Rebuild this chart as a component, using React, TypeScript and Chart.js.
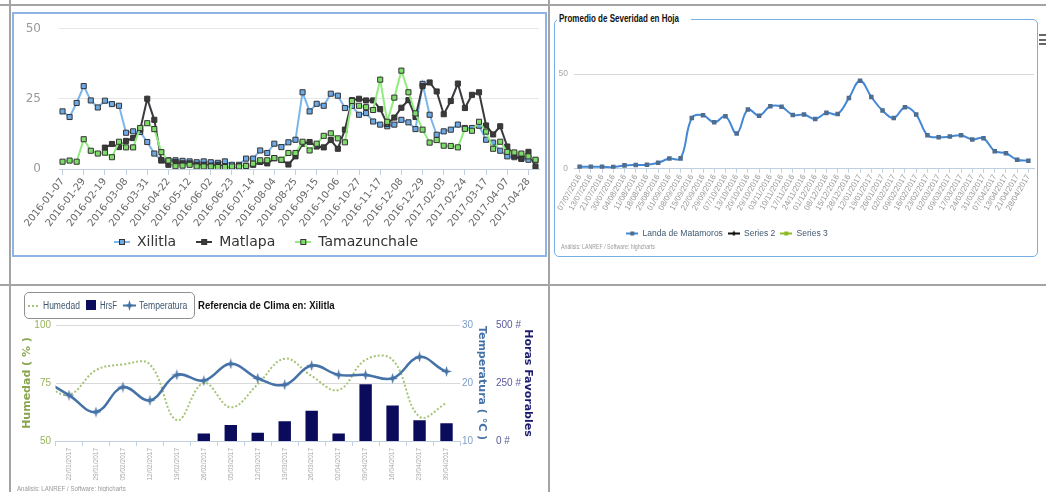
import React, { useEffect, useRef } from "react";
import { Chart, registerables } from "chart.js";

Chart.register(...registerables);

const ARIAL = '"Liberation Sans", Arial, sans-serif';
const SANS = '"DejaVu Sans", Verdana, sans-serif';

// ---------- Chart 1: severity by site ----------
const sevDates = [
  "2016-01-07", "2016-01-14", "2016-01-21", "2016-01-29", "2016-02-05", "2016-02-12", "2016-02-19", "2016-02-25",
  "2016-03-02", "2016-03-08", "2016-03-15", "2016-03-23", "2016-03-31", "2016-04-07", "2016-04-14", "2016-04-22",
  "2016-04-28", "2016-05-05", "2016-05-12", "2016-05-19", "2016-05-26", "2016-06-02", "2016-06-09", "2016-06-16",
  "2016-06-23", "2016-06-30", "2016-07-07", "2016-07-14", "2016-07-21", "2016-07-28", "2016-08-04", "2016-08-11",
  "2016-08-18", "2016-08-25", "2016-09-01", "2016-09-08", "2016-09-15", "2016-09-22", "2016-09-29", "2016-10-06",
  "2016-10-13", "2016-10-20", "2016-10-27", "2016-11-03", "2016-11-10", "2016-11-17", "2016-11-24", "2016-12-01",
  "2016-12-08", "2016-12-15", "2016-12-22", "2016-12-29", "2017-01-12", "2017-01-26", "2017-02-03", "2017-02-10",
  "2017-02-17", "2017-02-24", "2017-03-03", "2017-03-10", "2017-03-17", "2017-03-24", "2017-03-31", "2017-04-07",
  "2017-04-14", "2017-04-21", "2017-04-28", "2017-05-05",
];
const xilitla = [
  20.5, 18.5, 23.5, 29.5, 24.4, 21.9, 24.3, 23.1, 22.5, 12.9, 13.4, 13.2, 9.6, 5.5, 3.0, 3.1,
  3.1, 2.9, 2.7, 2.4, 2.7, 2.4, 2.2, 2.7, 1.5, 1.5, 3.7, 3.7, 6.6, 5.7, 9.0, 7.8,
  9.5, 10.4, 27.3, 20.5, 23.2, 22.5, 26.8, 26.1, 21.7, 22.5, 19.3, 19.9, 16.9, 15.8, 15.2, 15.8,
  17.5, 16.6, 14.2, 30.3, 19.3, 12.2, 13.4, 14.0, 15.8, 14.6, 14.6, 15.4, 10.4, 9.4, 6.5, 4.5,
  4.2, 3.8, 3.3, 3.0,
];
const matlapa = [
  null, null, null, null, null, null, 7.6, 8.9, 7.8, 10.0, 11.0, 14.0, 25.0, 17.5, 3.2, 1.5,
  2.5, 2.0, 2.0, 1.5, 1.5, 1.2, 1.5, 1.0, 0.4, 1.0, 1.2, 1.5, 2.5, 2.0, 3.8, 3.2,
  1.6, 4.5, 9.0, 9.6, 8.0, 7.7, 10.3, 7.2, 14.0, 24.5, 25.0, 24.4, 24.4, 21.3, 16.0, 18.3,
  21.8, 24.5, 18.5, 29.5, 30.8, 27.6, 19.5, 24.2, 30.4, 21.7, 26.4, 27.3, 15.5, 12.3, 15.2, 8.0,
  4.6, 3.6, 6.1, 0.8,
];
const tamazunchale = [
  2.6, 3.0, 2.6, 10.6, 6.5, 5.5, 5.8, 4.2, 9.7, 7.7, 7.7, 14.6, 16.3, 14.2, 6.0, 3.0,
  1.0, 1.2, 1.5, 0.9, 0.9, 0.9, 0.7, 0.7, 0.9, 0.9, 1.1, 1.9, 3.1, 3.1, 3.9, 3.3,
  5.7, 5.7, 9.7, 6.6, 9.0, 11.8, 12.7, 10.9, 9.5, 24.2, 22.5, 22.0, 21.0, 31.8, 16.8, 25.4,
  35.0, 27.3, 19.8, 14.0, 9.4, 10.3, 8.3, 8.2, 7.7, 14.3, 13.6, 16.8, 13.3, 7.2, 9.7, 6.1,
  5.9, 5.5, 4.5, 3.3,
];
const siteNames = ["Xilitla", "Matlapa", "Tamazunchale"];

// ---------- Chart 2: Landa de Matamoros ----------
const landaDates = [
  "07/07/2016", "13/07/2016", "21/07/2016", "30/07/2016", "04/08/2016", "11/08/2016", "18/08/2016", "25/08/2016",
  "01/09/2016", "08/09/2016", "15/09/2016", "22/09/2016", "29/09/2016", "07/10/2016", "13/10/2016", "20/10/2016",
  "29/10/2016", "03/11/2016", "10/11/2016", "17/11/2016", "24/11/2016", "01/12/2016", "08/12/2016", "15/12/2016",
  "28/12/2016", "12/01/2017", "19/01/2017", "26/01/2017", "02/02/2017", "09/02/2017", "16/02/2017", "23/02/2017",
  "02/03/2017", "09/03/2017", "17/03/2017", "24/03/2017", "31/03/2017", "07/04/2017", "13/04/2017", "21/04/2017",
  "28/04/2017",
];
const landaSeverity = [
  1.1, 1.1, 1.1, 0.9, 1.8, 2.0, 2.1, 3.2, 5.4, 5.5, 26.8, 28.2, 24.5, 27.7, 18.6, 31.3,
  28.0, 33.0, 32.7, 28.4, 28.6, 26.3, 29.5, 28.9, 37.3, 46.4, 37.9, 30.7, 26.8, 32.5, 28.6, 17.7,
  16.6, 17.0, 17.7, 15.5, 16.1, 9.3, 8.2, 4.8, 4.3,
];

// ---------- Chart 3: climate reference (first and last entries lie just outside the view) ----------
const climaDates = [
  "15/01/2017", "22/01/2017", "29/01/2017", "05/02/2017", "12/02/2017", "19/02/2017", "26/02/2017", "05/03/2017",
  "12/03/2017", "19/03/2017", "26/03/2017", "02/04/2017", "09/04/2017", "16/04/2017", "23/04/2017", "30/04/2017",
  "07/05/2017",
];
const humedad = [75, 70, 80.5, 83, 83, 59, 75, 64.5, 74.5, 85.5, 78, 72, 85, 85, 60.5, 66.5, 74];
const temperatura = [20.7, 17.9, 15.0, 19.3, 17.0, 21.4, 20.4, 23.3, 20.8, 19.7, 23.0, 21.4, 21.4, 20.8, 24.5, 22.0, 22.0];
const horasFavorables = [null, null, null, null, null, null, 32, 69, 36, 85, 130, 32, 245, 153, 89, 76, null];

function makeIcon(o: {
  w: number; h: number; line: string; lineWidth?: number; dash?: number[];
  marker?: "rect" | "diamond" | "star"; fill?: string; stroke?: string; size?: number;
}) {
  const c = document.createElement("canvas");
  c.width = o.w;
  c.height = o.h;
  const ctx = c.getContext("2d")!;
  const cy = o.h / 2;
  const cx = o.w / 2;
  if (o.line !== "none") {
    ctx.strokeStyle = o.line;
    ctx.lineWidth = o.lineWidth ?? 2;
    if (o.dash) ctx.setLineDash(o.dash);
    ctx.beginPath();
    ctx.moveTo(0, cy);
    ctx.lineTo(o.w, cy);
    ctx.stroke();
    ctx.setLineDash([]);
  }
  const s = o.size ?? 6;
  if (o.marker === "rect") {
    ctx.fillStyle = o.fill || "#000";
    ctx.fillRect(cx - s / 2, cy - s / 2, s, s);
    if (o.stroke) {
      ctx.strokeStyle = o.stroke;
      ctx.lineWidth = 1;
      ctx.strokeRect(cx - s / 2 + 0.5, cy - s / 2 + 0.5, s - 1, s - 1);
    }
  } else if (o.marker === "diamond") {
    ctx.fillStyle = o.fill || "#000";
    ctx.beginPath();
    ctx.moveTo(cx, cy - s / 2);
    ctx.lineTo(cx + s / 2, cy);
    ctx.lineTo(cx, cy + s / 2);
    ctx.lineTo(cx - s / 2, cy);
    ctx.closePath();
    ctx.fill();
  } else if (o.marker === "star") {
    ctx.fillStyle = o.fill || "#000";
    const r = s / 2;
    const k = 1.3;
    ctx.beginPath();
    ctx.moveTo(cx, cy - r);
    ctx.lineTo(cx + k, cy - k);
    ctx.lineTo(cx + r, cy);
    ctx.lineTo(cx + k, cy + k);
    ctx.lineTo(cx, cy + r);
    ctx.lineTo(cx - k, cy + k);
    ctx.lineTo(cx - r, cy);
    ctx.lineTo(cx - k, cy - k);
    ctx.closePath();
    ctx.fill();
  }
  return c;
}

// Small layout tweaks applied after Chart.js has laid the chart out:
// dx shifts the legend row sideways, xExtra lets rotated x labels draw below the axis box.
const layoutTweak = {
  id: "layoutTweak",
  afterLayout(chart: any, _args: any, opts: any) {
    const dx = (opts && opts.dx) || 0;
    if (chart.legend && dx) {
      chart.legend.left += dx;
      chart.legend.right += dx;
    }
    const extra = (opts && opts.xExtra) || 0;
    if (extra && chart.scales.x) {
      chart.scales.x.bottom += extra;
    }
  },
};

const LINE_GRAY = "#a4a4a4";
const CLEAR = "rgba(0,0,0,0)";

export default function App() {
  const c1 = useRef<HTMLCanvasElement>(null);
  const c2 = useRef<HTMLCanvasElement>(null);
  const c3 = useRef<HTMLCanvasElement>(null);

  useEffect(() => {
    Chart.defaults.font.family = SANS;
    const charts: Chart[] = [];

    // ----- Chart 1 -----
    const siteLine = ["#7cb5ec", "#3a3a3e", "#90ed7d"];
    const siteFill = ["#6ea9e4", "#3a3a3a", "#7fdc6a"];
    const icons1 = siteLine.map((col, i) =>
      makeIcon({ w: 16, h: 8, line: col, marker: "rect", fill: siteFill[i], stroke: "#333", size: 6 })
    );
    const siteData = [xilitla, matlapa, tamazunchale];
    charts.push(
      new Chart(c1.current!, {
        type: "line",
        data: {
          labels: sevDates,
          datasets: siteData.map((d, i) => ({
            label: siteNames[i],
            data: d,
            borderColor: siteLine[i],
            backgroundColor: siteFill[i],
            borderWidth: 2,
            pointStyle: "rect",
            pointRadius: 3.6,
            pointBackgroundColor: siteFill[i],
            pointBorderColor: "#333",
            pointBorderWidth: 1,
            tension: 0,
            spanGaps: false,
            order: 3 - i,
          })),
        },
        options: {
          responsive: false,
          animation: false,
          layout: { padding: { top: 14.5, right: 1, bottom: 5, left: 0 } },
          plugins: {
            tooltip: { enabled: false },
            legend: {
              position: "bottom",
              labels: {
                usePointStyle: true,
                pointStyleWidth: 16,
                padding: 20,
                color: "#333",
                font: { size: 14, family: SANS },
                sort: (a: any, b: any) => a.datasetIndex - b.datasetIndex,
                generateLabels: (chart: any) =>
                  Chart.defaults.plugins.legend.labels
                    .generateLabels(chart)
                    .map((l: any) => ({ ...l, pointStyle: icons1[l.datasetIndex] })),
              },
            },
            layoutTweak: { dx: -13.5, xExtra: 30 },
          } as any,
          scales: {
            x: {
              offset: true,
              grid: {
                drawOnChartArea: false,
                tickLength: 6,
                offset: false,
                color: (ctx: any) => (ctx.index % 3 === 0 ? "#C0D0E0" : CLEAR),
              },
              border: { color: "#C0D0E0" },
              ticks: {
                autoSkip: false,
                maxRotation: 52,
                minRotation: 52,
                padding: 1,
                color: "#666",
                font: { size: 10, family: SANS },
                callback: (_v: any, i: number) => (i % 3 === 0 ? sevDates[i] : ""),
              },
              afterFit: (s: any) => {
                s.height = 46;
              },
            },
            y: {
              min: 0,
              max: 50,
              ticks: { stepSize: 25, padding: 4, color: "#999", font: { size: 12, family: SANS } },
              grid: {
                drawTicks: true,
                tickLength: 14,
                tickColor: CLEAR,
                color: (ctx: any) => (ctx.tick && ctx.tick.value === 0 ? CLEAR : "#e6e6e6"),
              },
              border: { display: false },
              afterFit: (s: any) => {
                s.width = 45;
              },
            },
          },
        },
        plugins: [layoutTweak as any],
      })
    );

    // ----- Chart 2 -----
    const icons2 = [
      makeIcon({ w: 12, h: 6, line: "#4388d6", marker: "rect", fill: "#4f6d8f", size: 4 }),
      makeIcon({ w: 12, h: 6, line: "#111", marker: "diamond", fill: "#111", size: 5 }),
      makeIcon({ w: 12, h: 6, line: "#8bbc21", marker: "rect", fill: "#8bbc21", size: 4 }),
    ];
    charts.push(
      new Chart(c2.current!, {
        type: "line",
        data: {
          labels: landaDates,
          datasets: [
            {
              label: "Landa de Matamoros",
              data: landaSeverity,
              borderColor: "#4388d6",
              backgroundColor: "#4388d6",
              borderWidth: 2,
              tension: 0.4,
              pointStyle: "rect",
              pointRadius: 3.2,
              pointBackgroundColor: "#4f6d8f",
              pointBorderWidth: 0,
            },
            { label: "Series 2", data: [], borderColor: "#111", backgroundColor: "#111" },
            { label: "Series 3", data: [], borderColor: "#8bbc21", backgroundColor: "#8bbc21" },
          ],
        },
        options: {
          responsive: false,
          animation: false,
          layout: { padding: { top: 54, right: 2, bottom: 4.3, left: 0 } },
          plugins: {
            tooltip: { enabled: false },
            legend: {
              position: "bottom",
              labels: {
                usePointStyle: true,
                pointStyleWidth: 12,
                padding: 5,
                color: "#3E576F",
                font: { size: 8.5, family: ARIAL },
                generateLabels: (chart: any) =>
                  Chart.defaults.plugins.legend.labels
                    .generateLabels(chart)
                    .map((l: any) => ({ ...l, pointStyle: icons2[l.datasetIndex] })),
              },
            },
            layoutTweak: { dx: -69, xExtra: 10 },
          } as any,
          scales: {
            x: {
              offset: true,
              grid: { drawOnChartArea: false, tickLength: 4, color: "#C0D0E0", offset: false },
              border: { color: "#C0D0E0" },
              ticks: {
                autoSkip: false,
                maxRotation: 60,
                minRotation: 60,
                padding: 0,
                color: "#999",
                font: { size: 8, family: ARIAL },
              },
              afterFit: (s: any) => {
                s.height = 55.4;
              },
            },
            y: {
              min: 0,
              max: 50,
              ticks: { stepSize: 50, padding: 6, color: "#aaa", font: { size: 8.5, family: ARIAL } },
              grid: {
                drawTicks: false,
                color: (ctx: any) => (ctx.tick && ctx.tick.value === 0 ? CLEAR : "#d6d6d6"),
              },
              border: { display: false },
              afterFit: (s: any) => {
                s.width = 18;
              },
            },
          },
        },
        plugins: [layoutTweak as any],
      })
    );

    // ----- Chart 3 -----
    const tempStar = makeIcon({ w: 11, h: 11, line: "none", marker: "star", fill: "#4572A7", size: 11 });
    charts.push(
      new Chart(c3.current!, {
        type: "bar",
        data: {
          labels: climaDates,
          datasets: [
            {
              type: "bar",
              label: "HrsF",
              data: horasFavorables as any,
              backgroundColor: "#0b0b5c",
              borderWidth: 0,
              yAxisID: "yR",
              categoryPercentage: 1,
              barPercentage: 0.46,
              order: 3,
            },
            {
              type: "line",
              label: "Humedad",
              data: humedad,
              borderColor: "#a6c476",
              borderWidth: 2,
              borderDash: [2, 2],
              tension: 0.4,
              pointRadius: 0,
              yAxisID: "yH",
              order: 2,
            },
            {
              type: "line",
              label: "Temperatura",
              data: temperatura,
              borderColor: "#4572A7",
              backgroundColor: "#4572A7",
              borderWidth: 2.5,
              tension: 0.4,
              pointStyle: tempStar as any,
              pointRadius: 5,
              yAxisID: "yT",
              order: 1,
            },
          ] as any,
        },
        options: {
          responsive: false,
          animation: false,
          layout: { padding: { top: 39, right: 0, bottom: 0, left: 0 } },
          plugins: { legend: { display: false }, tooltip: { enabled: false } },
          scales: {
            x: {
              min: 1,
              max: 15,
              offset: true,
              grid: { drawOnChartArea: false, offset: true, tickLength: 5, color: "#C0D0E0" },
              border: { color: "#C0D0E0" },
              ticks: {
                autoSkip: false,
                maxRotation: 90,
                minRotation: 90,
                padding: 2,
                color: "#aaa",
                font: { size: 6.5, family: ARIAL },
              },
              afterFit: (s: any) => {
                s.height = 51;
              },
            },
            yH: {
              position: "left",
              min: 50,
              max: 100,
              ticks: { stepSize: 25, padding: 4.5, color: "#9ab25e", font: { size: 10, family: ARIAL } },
              grid: {
                drawTicks: false,
                color: (ctx: any) => (ctx.tick && ctx.tick.value === 50 ? CLEAR : "#d9d9d9"),
              },
              border: { display: false },
              title: {
                display: true,
                text: "Humedad ( % )",
                color: "#89A54E",
                font: { size: 11, weight: "bold", family: SANS },
                padding: { top: 8.4, bottom: 0 },
              },
              afterFit: (s: any) => {
                s.width = 43.5;
              },
            },
            yT: {
              position: "right",
              weight: 0,
              min: 10,
              max: 30,
              ticks: { stepSize: 10, padding: 2, color: "#7f9dc6", font: { size: 10, family: ARIAL } },
              grid: { display: false, drawTicks: false },
              border: { display: false },
              title: {
                display: true,
                text: "Temperatura ( °C )",
                color: "#4572A7",
                font: { size: 11, weight: "bold", family: SANS },
                padding: { top: 1.4, bottom: 0 },
              },
              afterFit: (s: any) => {
                s.width = 30;
              },
            },
            yR: {
              position: "right",
              weight: 1,
              min: 0,
              max: 500,
              ticks: {
                stepSize: 250,
                padding: 6,
                color: "#5a5a9c",
                font: { size: 10, family: ARIAL },
                callback: (v: any) => v + " #",
              },
              grid: { display: false, drawTicks: false },
              border: { display: false },
              title: {
                display: true,
                text: "Horas Favorables",
                color: "#1c1c6e",
                font: { size: 11, weight: "bold", family: SANS },
                padding: { top: 1.4, bottom: 0 },
              },
              afterFit: (s: any) => {
                s.width = 46;
              },
            },
          } as any,
        },
      })
    );

    return () => charts.forEach((c) => c.destroy());
  }, []);

  const abs = (s: React.CSSProperties): React.CSSProperties => ({ position: "absolute", ...s });
  const narrowText = (s: React.CSSProperties, sx: number): React.CSSProperties => ({
    position: "absolute",
    whiteSpace: "nowrap",
    transform: `scaleX(${sx})`,
    transformOrigin: "0 50%",
    ...s,
  });
  const legendText: React.CSSProperties = {
    top: 299,
    font: `10px ${ARIAL}`,
    color: "#3E576F",
    lineHeight: "13px",
  };

  return (
    <div
      style={{
        position: "fixed",
        left: 0,
        top: 0,
        width: 1046,
        height: 492,
        overflow: "hidden",
        background: "#fff",
      }}
    >
      {/* table grid */}
      <div style={abs({ left: 0, top: 4, width: 1046, height: 2, background: LINE_GRAY })} />
      <div style={abs({ left: 0, top: 284, width: 1046, height: 2, background: LINE_GRAY })} />
      <div style={abs({ left: 9, top: 0, width: 2, height: 492, background: LINE_GRAY })} />
      <div style={abs({ left: 548, top: 0, width: 2, height: 492, background: LINE_GRAY })} />

      {/* chart 1 panel */}
      <div
        style={abs({
          left: 12,
          top: 12,
          width: 535,
          height: 245,
          border: "2px solid #8db4e2",
          boxSizing: "border-box",
        })}
      />
      <canvas ref={c1} width={532} height={250} style={abs({ left: 14, top: 14 })} />

      {/* chart 2 panel */}
      <div
        style={abs({
          left: 554,
          top: 19,
          width: 484,
          height: 238,
          border: "1px solid #76aee6",
          borderRadius: 5,
          boxSizing: "border-box",
        })}
      />
      <div style={abs({ left: 557, top: 12, width: 134, height: 13, background: "#fff" })} />
      <div
        style={narrowText(
          { left: 559, top: 12, font: `bold 10px ${ARIAL}`, color: "#111", lineHeight: "13px" },
          0.8
        )}
      >
        Promedio de Severidad en Hoja
      </div>
      <div style={abs({ left: 1039, top: 34, width: 8, height: 2, background: "#666" })} />
      <div style={abs({ left: 1039, top: 38.5, width: 8, height: 2, background: "#666" })} />
      <div style={abs({ left: 1039, top: 43, width: 8, height: 2, background: "#666" })} />
      <canvas ref={c2} width={482} height={232} style={abs({ left: 556, top: 20 })} />
      <div
        style={narrowText(
          { left: 561, top: 242, font: `7px ${ARIAL}`, color: "#9a9a9a", lineHeight: "10px" },
          0.75
        )}
      >
        Análisis: LANREF / Software: highcharts
      </div>

      {/* chart 3 */}
      <canvas ref={c3} width={524} height={206} style={abs({ left: 12, top: 286 })} />
      <div
        style={abs({
          left: 24,
          top: 292,
          width: 171,
          height: 27,
          border: "1px solid #909090",
          borderRadius: 5,
          boxSizing: "border-box",
          background: "rgba(255,255,255,0.9)",
        })}
      />
      <div style={abs({ left: 28, top: 305, width: 10, height: 0, borderTop: "2px dotted #a6c476" })} />
      <div style={narrowText({ ...legendText, left: 43 }, 0.85)}>Humedad</div>
      <div style={abs({ left: 86, top: 300, width: 10, height: 10, background: "#0b0b5c" })} />
      <div style={narrowText({ ...legendText, left: 100 }, 0.78)}>HrsF</div>
      <svg style={abs({ left: 123, top: 299 })} width={13} height={13}>
        <line x1={0} y1={6.5} x2={13} y2={6.5} stroke="#4572A7" strokeWidth={2} />
        <polygon points="6.5,1 7.8,5.2 12,6.5 7.8,7.8 6.5,12 5.2,7.8 1,6.5 5.2,5.2" fill="#4572A7" />
      </svg>
      <div style={narrowText({ ...legendText, left: 139 }, 0.86)}>Temperatura</div>
      <div
        style={narrowText(
          { left: 198, top: 298, font: `bold 11px ${ARIAL}`, color: "#111", lineHeight: "14px" },
          0.87
        )}
      >
        Referencia de Clima en: Xilitla
      </div>
      <div
        style={narrowText(
          { left: 17, top: 484, font: `8px ${ARIAL}`, color: "#9a9a9a", lineHeight: "10px" },
          0.76
        )}
      >
        Análisis: LANREF / Software: highcharts
      </div>
    </div>
  );
}
